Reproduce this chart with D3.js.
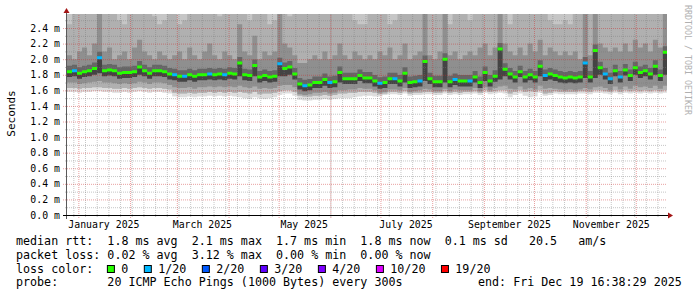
<!DOCTYPE html>
<html><head><meta charset="utf-8">
<script src="https://cdn.jsdelivr.net/npm/d3@7"></script>
<style>
html,body{margin:0;padding:0;background:#fff;}
svg{display:block;}
text{font-family:"DejaVu Sans Mono",monospace;}
</style>
</head><body>
<svg id="c" width="697" height="297"></svg>
<script>
// ---------------- data ----------------
const startTime = new Date(Date.UTC(2024, 11, 25, 5, 0, 0));
const endTime = new Date(Date.UTC(2025, 11, 19, 16, 38, 29));
const stepDays = 3;
const yMax = 2.58; // ms at top of plot

// median rtt per 3-day column (ms)
const median = [
 1.84,1.85,1.82,1.84,1.85,1.88,2.02,1.85,1.86,1.85,
 1.82,1.83,1.83,1.84,1.90,1.85,1.82,1.85,1.85,1.84,
 1.81,1.80,1.78,1.78,1.80,1.78,1.80,1.80,1.81,1.80,
 1.81,1.80,1.82,1.81,1.95,1.80,1.79,1.92,1.77,1.79,
 1.77,1.78,1.94,1.88,1.90,1.81,1.68,1.66,1.67,1.70,
 1.70,1.74,1.70,1.71,1.83,1.75,1.75,1.75,1.79,1.76,
 1.76,1.72,1.69,1.70,1.75,1.75,1.72,1.82,1.70,1.71,
 1.72,1.97,1.75,1.71,1.71,2.00,1.71,1.74,1.72,1.72,
 1.72,1.77,1.70,1.83,1.72,1.78,2.13,1.87,1.81,1.77,
 1.84,1.77,1.80,1.77,1.91,1.79,1.81,1.79,1.77,1.76,
 1.77,1.76,1.77,1.95,1.77,2.11,1.89,1.81,1.75,1.85,
 1.77,1.86,1.79,1.89,1.83,1.85,1.81,1.91,1.79,2.09
];
// lost pings out of 20 per column
const loss = [
 0,1,0,0,0,0,1,0,0,0,
 0,0,0,0,0,0,0,0,0,0,
 0,1,0,1,0,0,0,0,1,0,
 0,1,0,0,0,0,0,0,0,0,
 0,0,1,0,0,0,0,1,0,0,
 0,0,1,0,0,0,0,0,0,0,
 0,0,1,0,0,1,0,0,0,0,
 1,0,0,0,0,0,0,1,0,0,
 1,0,0,0,0,0,0,0,0,0,
 0,0,0,0,0,1,0,0,0,0,
 0,0,0,1,0,0,0,1,1,0,
 1,0,0,0,0,0,0,0,0,0
];
// lowest ping (bottom of smoke)
const pMin = [
 1.58,1.58,1.57,1.58,1.58,1.59,1.59,1.58,1.58,1.57,
 1.57,1.58,1.57,1.58,1.59,1.58,1.57,1.58,1.58,1.57,
 1.56,1.52,1.51,1.51,1.52,1.51,1.52,1.52,1.53,1.52,
 1.53,1.52,1.53,1.52,1.51,1.50,1.49,1.51,1.50,1.49,
 1.50,1.51,1.54,1.56,1.56,1.53,1.48,1.47,1.47,1.48,
 1.48,1.49,1.48,1.49,1.50,1.50,1.50,1.51,1.52,1.53,
 1.53,1.52,1.52,1.54,1.55,1.55,1.54,1.56,1.53,1.54,
 1.54,1.55,1.55,1.54,1.54,1.56,1.54,1.55,1.54,1.55,
 1.55,1.56,1.54,1.57,1.55,1.56,1.57,1.56,1.51,1.54,
 1.56,1.53,1.51,1.52,1.57,1.53,1.54,1.56,1.55,1.55,
 1.55,1.55,1.56,1.56,1.55,1.57,1.57,1.56,1.55,1.57,
 1.55,1.57,1.56,1.57,1.56,1.57,1.56,1.57,1.56,1.57
];
// lower edge of the light-grey smoke band
const pLow = [
 1.63,1.63,1.62,1.63,1.63,1.64,1.64,1.63,1.63,1.62,
 1.62,1.63,1.62,1.63,1.64,1.63,1.62,1.63,1.63,1.62,
 1.61,1.57,1.56,1.56,1.57,1.56,1.57,1.57,1.58,1.57,
 1.58,1.57,1.58,1.57,1.58,1.57,1.56,1.58,1.55,1.56,
 1.56,1.57,1.59,1.60,1.60,1.58,1.53,1.52,1.52,1.53,
 1.53,1.54,1.53,1.54,1.56,1.56,1.57,1.57,1.58,1.58,
 1.58,1.57,1.55,1.56,1.58,1.58,1.57,1.59,1.56,1.57,
 1.57,1.58,1.58,1.57,1.57,1.59,1.57,1.58,1.57,1.58,
 1.58,1.59,1.57,1.60,1.58,1.59,1.60,1.60,1.56,1.58,
 1.60,1.58,1.59,1.58,1.60,1.56,1.57,1.59,1.58,1.58,
 1.58,1.58,1.59,1.59,1.58,1.60,1.60,1.59,1.58,1.60,
 1.58,1.60,1.59,1.60,1.59,1.60,1.59,1.60,1.59,1.60
];
// lower edge of the dark smoke band
const pDark = [
 1.70,1.70,1.68,1.69,1.70,1.71,1.72,1.70,1.70,1.69,
 1.68,1.69,1.68,1.69,1.71,1.70,1.68,1.70,1.70,1.69,
 1.67,1.64,1.63,1.63,1.64,1.62,1.64,1.64,1.65,1.64,
 1.65,1.64,1.65,1.64,1.66,1.64,1.63,1.65,1.62,1.63,
 1.62,1.63,1.66,1.67,1.67,1.64,1.55,1.54,1.55,1.57,
 1.57,1.58,1.56,1.57,1.60,1.60,1.61,1.61,1.63,1.62,
 1.62,1.60,1.57,1.58,1.61,1.61,1.60,1.63,1.58,1.59,
 1.60,1.62,1.61,1.59,1.59,1.62,1.59,1.61,1.60,1.60,
 1.60,1.63,1.59,1.64,1.60,1.63,1.65,1.66,1.62,1.61,
 1.65,1.61,1.63,1.61,1.66,1.62,1.63,1.62,1.61,1.60,
 1.61,1.60,1.61,1.63,1.61,1.64,1.65,1.63,1.60,1.65,
 1.61,1.65,1.62,1.66,1.64,1.65,1.63,1.66,1.62,1.66
];
// lower edge of the darkest core around the median
const coreLo = [
 1.77,1.78,1.75,1.77,1.78,1.80,1.82,1.78,1.79,1.78,
 1.75,1.76,1.76,1.77,1.80,1.78,1.75,1.78,1.78,1.77,
 1.74,1.73,1.71,1.71,1.73,1.71,1.73,1.73,1.74,1.73,
 1.74,1.73,1.75,1.74,1.78,1.73,1.72,1.78,1.70,1.72,
 1.70,1.71,1.78,1.78,1.80,1.74,1.61,1.59,1.60,1.63,
 1.63,1.66,1.63,1.64,1.70,1.68,1.68,1.68,1.72,1.69,
 1.69,1.65,1.62,1.63,1.68,1.68,1.65,1.70,1.63,1.64,
 1.65,1.72,1.68,1.64,1.64,1.70,1.64,1.67,1.65,1.65,
 1.65,1.70,1.63,1.72,1.65,1.71,1.74,1.78,1.74,1.70,
 1.77,1.70,1.73,1.70,1.78,1.72,1.74,1.72,1.70,1.69,
 1.70,1.69,1.70,1.76,1.70,1.76,1.80,1.74,1.68,1.78,
 1.70,1.79,1.72,1.80,1.76,1.78,1.74,1.80,1.72,1.80
];
// upper edge of the dark smoke band
const pHi = [
 2.05,2.00,2.10,2.15,2.05,2.20,2.70,2.10,2.15,2.00,
 2.05,2.10,2.00,2.15,2.25,2.10,2.05,2.00,2.10,2.05,
 2.00,2.05,2.10,2.00,2.15,2.05,2.00,2.10,2.20,2.05,
 2.00,2.10,2.05,2.00,2.45,2.10,2.05,2.30,2.00,2.10,
 2.05,2.10,2.60,2.20,2.15,2.05,1.95,1.95,2.00,2.05,
 2.00,2.10,2.00,2.05,2.20,2.05,2.00,2.10,2.05,2.00,
 2.05,2.00,2.10,2.05,2.15,2.00,2.05,2.20,2.00,2.05,
 2.10,2.70,2.05,2.00,2.10,2.70,2.05,2.10,2.00,2.05,
 2.10,2.05,2.15,2.20,2.05,2.15,2.70,2.20,2.10,2.05,
 2.15,2.05,2.20,2.10,2.25,2.05,2.15,2.10,2.05,2.10,
 2.05,2.10,2.00,2.70,2.05,2.70,2.20,2.15,2.10,2.15,
 2.10,2.20,2.10,2.25,2.15,2.20,2.10,2.25,2.15,2.70
];
// upper edge of the mid-grey smoke band (above 2.58 = off the chart)
const pTop = [
 2.45,2.70,2.70,2.70,2.70,2.70,2.70,2.70,2.70,2.70,
 2.50,2.45,2.70,2.70,2.70,2.70,2.70,2.55,2.45,2.50,
 2.70,2.70,2.45,2.50,2.70,2.70,2.70,2.70,2.70,2.70,
 2.55,2.70,2.70,2.70,2.70,2.70,2.50,2.70,2.70,2.70,
 2.45,2.50,2.70,2.70,2.55,2.70,2.70,2.70,2.70,2.70,
 2.70,2.70,2.70,2.70,2.70,2.70,2.70,2.50,2.45,2.45,
 2.70,2.70,2.70,2.70,2.45,2.50,2.70,2.70,2.70,2.70,
 2.70,2.70,2.70,2.70,2.70,2.70,2.45,2.70,2.70,2.70,
 2.50,2.70,2.70,2.70,2.70,2.70,2.70,2.70,2.45,2.70,
 2.70,2.70,2.70,2.70,2.70,2.70,2.50,2.45,2.45,2.50,
 2.45,2.70,2.70,2.50,2.70,2.70,2.70,2.70,2.70,2.70,
 2.70,2.70,2.70,2.70,2.70,2.70,2.70,2.70,2.70,2.70
];

const yTicks = [0.0,0.2,0.4,0.6,0.8,1.0,1.2,1.4,1.6,1.8,2.0,2.2,2.4];
const yMinorTicks = [0.1,0.3,0.5,0.7,0.9,1.1,1.3,1.5,1.7,1.9,2.1,2.3,2.5];

const lossLevels = [0, 1, 2, 3, 4, 10, 19];
const lossLabels = ["0","1/20","2/20","3/20","4/20","10/20","19/20"];
const lossColors = ["#26ff00","#00b8ff","#0059ff","#5e00ff","#7e00ff","#dd00ff","#ff0000"];

const legendRows = [
 "median rtt:  1.8 ms avg  2.1 ms max  1.7 ms min  1.8 ms now  0.1 ms sd   20.5   am/s",
 "packet loss: 0.02 % avg  3.12 % max  0.00 % min  0.00 % now",
 "loss color:",
 "probe:       20 ICMP Echo Pings (1000 Bytes) every 300s"
];
const endLabel = "end: Fri Dec 19 16:38:29 2025";
const yTitle = "Seconds";
const watermark = "RRDTOOL / TOBI OETIKER";

// ---------------- drawing ----------------
const W = 697, H = 297;
const plot = {left: 67, right: 667, top: 14, bottom: 215};
const svg = d3.select("#c");
svg.append("rect").attr("width", W).attr("height", H).attr("fill", "#ffffff");

const x = d3.scaleUtc().domain([startTime, endTime]).range([plot.left, plot.right]);
const y = d3.scaleLinear().domain([0, yMax]).range([plot.bottom, plot.top]);

svg.append("clipPath").attr("id", "clip").append("rect")
  .attr("x", plot.left).attr("y", plot.top)
  .attr("width", plot.right - plot.left).attr("height", plot.bottom - plot.top);

const rows = median.map((m, i) => ({t: d3.utcDay.offset(startTime, i * stepDays), i}));
rows.push({t: d3.utcDay.offset(startTime, median.length * stepDays), i: median.length - 1});

const smoke = svg.append("g").attr("clip-path", "url(#clip)");
function band(y0f, y1f, color) {
  smoke.append("path").datum(rows).attr("fill", color).attr("stroke", "none")
    .attr("d", d3.area().curve(d3.curveStepAfter).x(r => x(r.t)).y0(y0f).y1(y1f));
}
const offTop = plot.top - 2;
band(r => y(pMin[r.i]), r => offTop, "#dddddd");
band(r => y(pLow[r.i]), r => offTop, "#c6c6c6");
band(r => y(pLow[r.i]), r => y(pTop[r.i]), "#b0b0b0");
band(r => y(pDark[r.i]), r => y(pHi[r.i]), "#8f8f8f");
band(r => y(median[r.i]), r => y(median[r.i]) - 6, "#666666");
band(r => y(coreLo[r.i]), r => y(median[r.i]), "#444444");

// grid
const minorCol = "rgba(120,120,120,0.42)";
const majorCol = "rgba(205,45,45,0.45)";
const grid = svg.append("g");
grid.append("g").attr("transform", `translate(0,${plot.bottom})`)
  .call(d3.axisBottom(x).tickValues(d3.utcSunday.range(startTime, endTime))
        .tickSize(-(plot.bottom - plot.top)).tickFormat(""))
  .call(g => g.select(".domain").remove())
  .selectAll("line").attr("y1", 2).attr("stroke", minorCol).attr("stroke-dasharray", "1,1");
grid.append("g").attr("transform", `translate(${plot.left},0)`)
  .call(d3.axisLeft(y).tickValues(yMinorTicks).tickSize(-(plot.right - plot.left)).tickFormat(""))
  .call(g => g.select(".domain").remove())
  .selectAll("line").attr("x1", -2).attr("stroke", minorCol).attr("stroke-dasharray", "1,1");
grid.append("g").attr("transform", `translate(0,${plot.bottom})`)
  .call(d3.axisBottom(x).tickValues(d3.utcMonth.range(startTime, endTime))
        .tickSize(-(plot.bottom - plot.top)).tickFormat(""))
  .call(g => g.select(".domain").remove())
  .selectAll("line").attr("y1", 3).attr("stroke", majorCol).attr("stroke-dasharray", "1,1");
grid.append("g").attr("transform", `translate(${plot.left},0)`)
  .call(d3.axisLeft(y).tickValues(yTicks.filter(v => v > 0)).tickSize(-(plot.right - plot.left)).tickFormat(""))
  .call(g => g.select(".domain").remove())
  .selectAll("line").attr("x1", -4).attr("stroke", majorCol).attr("stroke-dasharray", "1,1");

// median: a thin stacked area per loss class (no vertical connectors)
const medPts = [];
median.forEach((m, i) => {
  const t0 = d3.utcDay.offset(startTime, i * stepDays);
  const t1 = d3.utcDay.offset(startTime, (i + 1) * stepDays);
  medPts.push({t: t0, v: m, l: loss[i]});
  medPts.push({t: t1, v: m, l: loss[i]});
});
const medG = svg.append("g").attr("clip-path", "url(#clip)");
lossLevels.forEach((lv, k) => {
  if (!loss.includes(lv)) return;
  medG.append("path").datum(medPts)
    .attr("fill", lossColors[k]).attr("stroke", "none")
    .attr("d", d3.area().defined(p => p.l === lv).x(p => x(p.t))
      .y0(p => y(p.v) + 1.5).y1(p => y(p.v) - 1.5));
});

// axes lines & arrows
svg.append("line").attr("x1", plot.left - 0.5).attr("x2", plot.left - 0.5)
  .attr("y1", plot.bottom + 4).attr("y2", plot.top - 2).attr("stroke", "#5a5a5a").attr("stroke-width", 1);
svg.append("line").attr("x1", plot.left - 4).attr("x2", plot.right + 2)
  .attr("y1", plot.bottom + 0.5).attr("y2", plot.bottom + 0.5).attr("stroke", "#000").attr("stroke-width", 1);
const arrowCol = "#a31515";
svg.append("path").attr("fill", arrowCol)
  .attr("d", `M${plot.left - 3.5},${plot.top - 1}L${plot.left + 2.5},${plot.top - 1}L${plot.left - 0.5},${plot.top - 6}Z`);
svg.append("path").attr("fill", arrowCol)
  .attr("d", `M${plot.right + 1},${plot.bottom - 2.5}L${plot.right + 1},${plot.bottom + 3.5}L${plot.right + 6},${plot.bottom + 0.5}Z`);

// y tick labels
const yAx = svg.append("g").attr("transform", `translate(${plot.left},0)`)
  .call(d3.axisLeft(y).tickValues(yTicks).tickSize(0).tickPadding(7)
        .tickFormat(d => d3.format(".1f")(d) + " m"));
yAx.select(".domain").remove();
yAx.selectAll("text").attr("font-family", "DejaVu Sans Mono").attr("font-size", 9.85).attr("fill", "#000");

// x month labels (centered mid-month, every 2 months)
const labelMonths = d3.utcMonth.range(startTime, endTime).filter(m => m.getUTCMonth() % 2 === 0);
const xAx = svg.append("g").attr("transform", `translate(0,${plot.bottom})`)
  .call(d3.axisBottom(x).tickValues(labelMonths.map(m => d3.utcDay.offset(m, 15)))
        .tickSize(0).tickFormat(d => d3.utcFormat("%B %Y")(d3.utcMonth.floor(d))));
xAx.select(".domain").remove();
xAx.selectAll("text").attr("font-family", "DejaVu Sans Mono").attr("font-size", 9.85)
  .attr("fill", "#000").attr("y", 13.2).attr("dy", null);

// y title
svg.append("text").attr("transform", "translate(15,113.5) rotate(-90)")
  .attr("text-anchor", "middle").attr("font-size", 11).attr("fill", "#000").text(yTitle);

// watermark
svg.append("text").attr("transform", "translate(684.5,5) rotate(90)")
  .attr("font-size", 8.3).attr("fill", "#b0b0b0").text(watermark);

// legend
const charW = 7.03;
const legendFont = 11.68;
const baselines = [245.3, 258.8, 272.6, 286.3];
legendRows.forEach((s, i) => {
  svg.append("text").attr("x", 16).attr("y", baselines[i])
    .attr("font-size", legendFont).attr("fill", "#000")
    .attr("xml:space", "preserve").style("white-space", "pre").text(s);
});
svg.append("text").attr("x", 478).attr("y", baselines[3])
  .attr("font-size", legendFont).attr("fill", "#000")
  .attr("xml:space", "preserve").style("white-space", "pre").text(endLabel);
let lx = 16 + 13 * charW - 0.5;
lossLabels.forEach((lab, k) => {
  svg.append("rect").attr("x", lx + 0.5).attr("y", 265.5).attr("width", 7).attr("height", 7)
    .attr("fill", lossColors[k]).attr("stroke", "#000").attr("stroke-width", 1);
  svg.append("text").attr("x", lx + 14.4).attr("y", baselines[2])
    .attr("font-size", legendFont).attr("fill", "#000").text(lab);
  lx += 14.4 + lab.length * charW + 15.5;
});
</script>
</body></html>
